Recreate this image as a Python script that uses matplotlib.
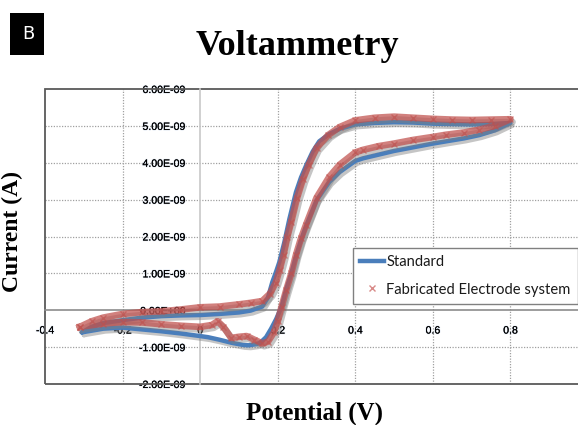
import numpy as np
import matplotlib
matplotlib.use("Agg")
import matplotlib.pyplot as plt
import matplotlib.patheffects as pe
from matplotlib.patches import Rectangle
from matplotlib.lines import Line2D

# ---------------- data (potential in V, current in nA) ----------------
std_potential = [-0.305, -0.28, -0.25, -0.20, -0.15, -0.10, -0.05, 0.00, 0.05, 0.10,
                 0.13, 0.16, 0.175, 0.186, 0.196, 0.204, 0.217, 0.23, 0.247, 0.26,
                 0.273, 0.29, 0.307, 0.333, 0.36, 0.40, 0.45, 0.50, 0.55, 0.60,
                 0.65, 0.70, 0.75, 0.80,
                 0.76, 0.72, 0.68, 0.634, 0.60, 0.55, 0.50, 0.46, 0.42, 0.40,
                 0.36, 0.333, 0.30, 0.273, 0.26, 0.247, 0.235, 0.222, 0.21, 0.196,
                 0.183, 0.17, 0.155, 0.145, 0.125, 0.11, 0.08, 0.05, 0.02, 0.00,
                 -0.05, -0.10, -0.15, -0.20, -0.25, -0.305]
std_current_nA = [-0.60, -0.45, -0.35, -0.27, -0.20, -0.16, -0.14, -0.13, -0.10, -0.06,
                  -0.01, 0.10, 0.35, 0.76, 1.05, 1.30, 1.84, 2.47, 3.20, 3.60,
                  3.92, 4.30, 4.58, 4.78, 4.92, 5.04, 5.08, 5.10, 5.09, 5.06,
                  5.05, 5.04, 5.05, 5.08,
                  4.88, 4.75, 4.66, 4.58, 4.52, 4.42, 4.32, 4.22, 4.12, 4.05,
                  3.75, 3.48, 2.98, 2.28, 1.90, 1.46, 1.00, 0.57, 0.10, -0.24,
                  -0.50, -0.73, -0.88, -0.92, -0.95, -0.94, -0.88, -0.80, -0.73, -0.70,
                  -0.63, -0.57, -0.52, -0.47, -0.50, -0.60]

fab_potential = [-0.31, -0.28, -0.25, -0.20, -0.15, -0.10, -0.05, 0.00, 0.05, 0.10,
                 0.13, 0.16, 0.18, 0.195, 0.205, 0.215, 0.225, 0.235, 0.25, 0.265,
                 0.28, 0.30, 0.33, 0.36, 0.40, 0.45, 0.50, 0.55, 0.60, 0.65,
                 0.70, 0.75, 0.80,
                 0.76, 0.72, 0.68, 0.634, 0.60, 0.55, 0.50, 0.46, 0.42, 0.40,
                 0.36, 0.333, 0.30, 0.273, 0.26, 0.247, 0.235, 0.222, 0.21, 0.20,
                 0.19, 0.175, 0.16, 0.14, 0.12, 0.10, 0.08, 0.06, 0.045, 0.03,
                 0.00, -0.05, -0.10, -0.15, -0.20, -0.25, -0.31]
fab_current_nA = [-0.45, -0.30, -0.20, -0.10, -0.05, -0.03, 0.02, 0.08, 0.10, 0.16,
                  0.20, 0.25, 0.45, 0.75, 1.10, 1.50, 2.00, 2.40, 3.05, 3.55,
                  3.95, 4.40, 4.75, 4.97, 5.15, 5.22, 5.25, 5.22, 5.19, 5.17,
                  5.16, 5.17, 5.18,
                  5.00, 4.90, 4.82, 4.76, 4.70, 4.62, 4.52, 4.45, 4.35, 4.28,
                  3.95, 3.62, 3.05, 2.32, 1.95, 1.50, 1.00, 0.55, 0.10, -0.30,
                  -0.60, -0.85, -0.90, -0.80, -0.70, -0.72, -0.75, -0.45, -0.30, -0.40,
                  -0.45, -0.42, -0.38, -0.33, -0.32, -0.36, -0.45]

x_ticks = [-0.4, -0.2, 0.0, 0.2, 0.4, 0.6, 0.8]
x_tick_labels = ["-0.4", "-0.2", "0", "0.2", "0.4", "0.6", "0.8"]
y_ticks = [-2e-9, -1e-9, 0.0, 1e-9, 2e-9, 3e-9, 4e-9, 5e-9, 6e-9]
y_tick_labels = ["-2.00E-09", "-1.00E-09", "0.00E+00", "1.00E-09", "2.00E-09",
                 "3.00E-09", "4.00E-09", "5.00E-09", "6.00E-09"]

series_names = ["Standard", "Fabricated Electrode system"]

# ---------------- figure ----------------
W, H = 578, 425
fig = plt.figure(figsize=(W / 100, H / 100), dpi=100)
fig.patch.set_facecolor("white")

ax_left, ax_right, ax_top, ax_bottom = 45, 588, 89, 384
ax = fig.add_axes([ax_left / W, 1 - ax_bottom / H,
                   (ax_right - ax_left) / W, (ax_bottom - ax_top) / H])
ax.set_xlim(-0.4, 1.0)
ax.set_ylim(-2e-9, 6e-9)

# grid
ax.set_axisbelow(True)
for xv in [-0.2, 0.2, 0.4, 0.6, 0.8]:
    ax.axvline(xv, color="#a0a0a0", lw=0.9, ls=(0, (1, 1.2)), zorder=0)
for yv in [-1e-9, 1e-9, 2e-9, 3e-9, 4e-9, 5e-9]:
    ax.axhline(yv, color="#a0a0a0", lw=0.9, ls=(0, (1, 1.2)), zorder=0)

# zero axes
for s in ["top", "right"]:
    ax.spines[s].set_visible(False)
ax.spines["left"].set_position(("data", 0))
ax.spines["bottom"].set_position(("data", 0))
ax.spines["left"].set_color("#c8c8c8")
ax.spines["left"].set_linewidth(1.2)
ax.spines["bottom"].set_color("#8c8c8c")
ax.spines["bottom"].set_linewidth(1.2)

# outer frame
ax.add_patch(Rectangle((0, 0), 1, 1, transform=ax.transAxes, fill=False,
                       edgecolor="#595959", lw=1.3, clip_on=False, zorder=1))

ax.set_xticks(x_ticks)
ax.set_xticklabels(x_tick_labels)
ax.set_yticks(y_ticks)
ax.set_yticklabels(y_tick_labels)
ax.tick_params(axis="both", length=0, labelsize=7.6, labelcolor="#000000")
ax.tick_params(axis="y", pad=11)
ax.tick_params(axis="x", pad=11)
for lab in ax.get_xticklabels() + ax.get_yticklabels():
    lab.set_fontfamily("Liberation Sans")
    lab.set_path_effects([pe.withStroke(linewidth=1.0, foreground="#9fb6d6", alpha=0.3),
                          pe.Normal()])

blue = "#4a7ebb"
red = "#c0504d"

std_current = np.array(std_current_nA) * 1e-9
fab_current = np.array(fab_current_nA) * 1e-9

shadow = [pe.SimpleLineShadow(offset=(1.5, -2.0), shadow_color="#7f7f7f", alpha=0.45),
          pe.Normal()]

ax.plot(std_potential, std_current, color=blue, lw=3.2, solid_capstyle="round",
        solid_joinstyle="round", path_effects=shadow, zorder=3)
ax.plot(fab_potential, fab_current, color=red, lw=4.8, alpha=0.72,
        solid_joinstyle="round", path_effects=shadow, zorder=4)
ax.plot(fab_potential, fab_current, ls="none", marker="x", ms=4.5, mew=1.0,
        color=red, alpha=0.6, zorder=5)

# legend
handles = [Line2D([], [], color=blue, lw=3.2),
           Line2D([], [], ls="none", marker="x", ms=5, mew=1.0, color="#d88a88")]
leg = ax.legend(handles, series_names, loc="upper left",
                bbox_to_anchor=((353 - ax_left) / (ax_right - ax_left),
                                (ax_bottom - 248) / (ax_bottom - ax_top)),
                borderaxespad=0, frameon=True, fancybox=False,
                edgecolor="#808080", framealpha=1, handlelength=1.6,
                handletextpad=0.15, labelspacing=0.9, borderpad=0.5,
                prop={"family": "Lato", "size": 10.6})
leg.get_frame().set_linewidth(1.0)
for t in leg.get_texts():
    t.set_color("#1a1a1a")

# titles / labels
fig.text(297 / W, 1 - 55 / H, "Voltammetry", ha="center", va="baseline",
         fontsize=26, fontweight="bold", family="Liberation Serif")
fig.text(314 / W, 1 - 420 / H, "Potential (V)", ha="center", va="baseline",
         fontsize=18, fontweight="bold", family="Liberation Serif")
fig.text(12 / W, 1 - 232 / H, "Current (A)", ha="center", va="center",
         rotation=90, fontsize=17, fontweight="bold", family="Liberation Serif")

# panel letter
fig.patches.append(Rectangle((10 / W, 1 - 55 / H), 34 / W, 42 / H,
                             transform=fig.transFigure, facecolor="black",
                             edgecolor="none"))
fig.text(28 / W, 1 - 34 / H, "B", ha="center", va="center", color="white",
         fontsize=13, family="DejaVu Sans")

fig.savefig("out.png", dpi=100)
